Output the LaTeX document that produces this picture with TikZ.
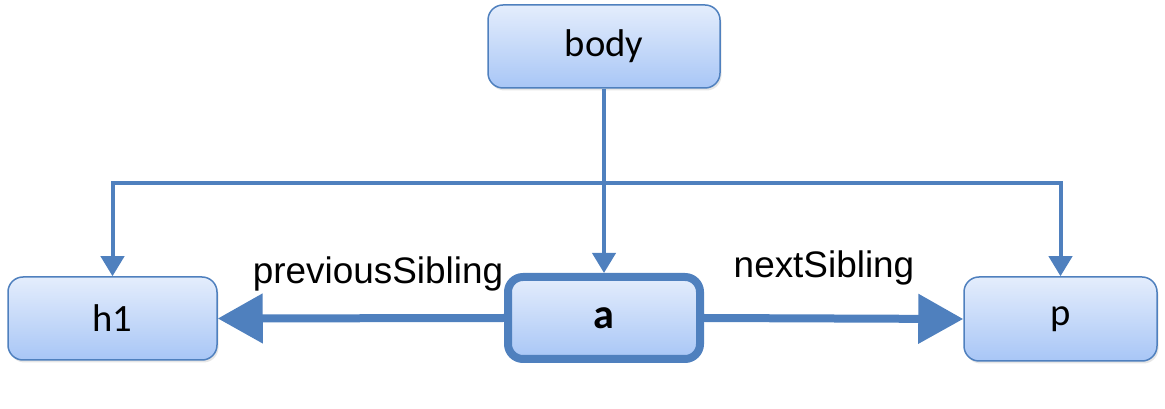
\documentclass[tikz,border=0pt]{standalone}
\usepackage{fontspec}
\setmainfont{Carlito}
\newfontfamily\labelfont{Liberation Sans}
\usetikzlibrary{positioning,arrows.meta,shadows}
\definecolor{linkblue}{RGB}{79,128,190}
\definecolor{boxtop}{RGB}{228,237,252}
\definecolor{boxbottom}{RGB}{168,198,246}
\tikzset{
  elem/.style={rounded corners=0.3cm, draw=linkblue, line width=0.03cm,
    top color=boxtop, bottom color=boxbottom, minimum height=1.66cm,
    font=\fontsize{22}{26}\selectfont,
    drop shadow={opacity=0.2, shadow xshift=0.03cm, shadow yshift=-0.05cm}},
  current/.style={elem, line width=0.16cm, minimum width=3.84cm, minimum height=1.64cm,
    font=\fontsize{24}{28}\selectfont\bfseries},
  link/.style={draw=linkblue, line width=0.08cm,
    -{Triangle[length=0.4cm, width=0.46cm]}, color=linkblue},
  sibling/.style={draw=linkblue, line width=0.16cm,
    -{Triangle[length=0.9cm, width=0.96cm]}, color=linkblue},
  siblinglabel/.style={anchor=base, font=\labelfont\fontsize{21}{25}\selectfont}
}
\begin{document}
\begin{tikzpicture}
		%%%%% FRAME %%%%%
		\useasboundingbox (0, 0) rectangle (23.3, -8.18);
		
		%%%%% NODES %%%%%
		\node[elem, minimum width=4.64cm] (body) at (12.08, -0.93) {body};
		\node[elem, minimum width=4.18cm] (h1) at (2.25, -6.37) {h1};
		\node[current] (a) at (12.08, -6.36) {a};
		\node[elem, minimum width=3.86cm, minimum height=1.68cm] (p) at (21.21, -6.38) {p};
		
		%%%%% PARENT LINKS %%%%%
		\coordinate (bus) at (12.08, -3.66);
		\draw[link] (body.south) -- (a.north);
		\draw[link] (bus) -| (h1.north);
		\draw[link] (bus) -| (p.north);
		
		%%%%% SIBLING LINKS %%%%%
		\draw[sibling] (a.west) -- (h1.east);
		\draw[sibling] (a.east) -- (p.west);
		
		\node[siblinglabel] (prevlabel) at (7.56, -5.68) {previousSibling};
		\node[siblinglabel] (nextlabel) at (16.48, -5.56) {nextSibling};
		
		%%%%% END %%%%%
	\end{tikzpicture}
\end{document}
